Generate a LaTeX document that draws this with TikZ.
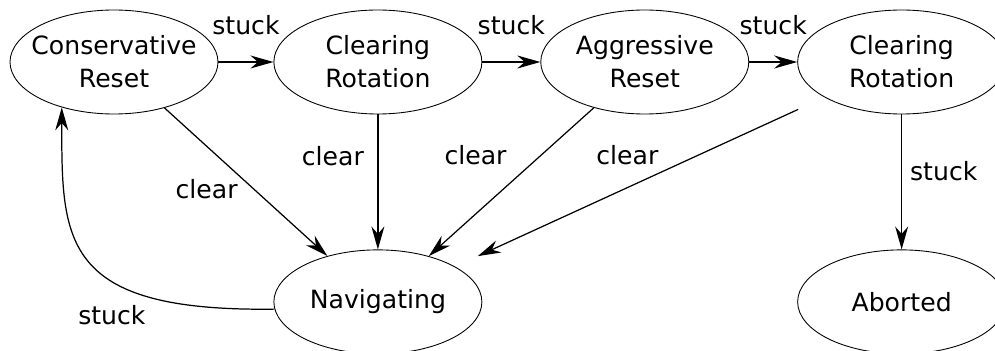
\documentclass[tikz,border=0pt]{standalone}
\usepackage{fontspec}
\setmainfont{DejaVu Sans}
\usetikzlibrary{shapes.geometric,arrows.meta,positioning}

\tikzset{
  state/.style={draw, ellipse, line width=0.5pt, minimum width=4.16cm, minimum height=2.08cm,
    inner xsep=-0.3cm, inner ysep=0pt, align=center, font=\fontsize{14.3}{18.8}\selectfont},
  trans/.style={-{Stealth[length=0.46cm,width=0.26cm,inset=0.15cm]}, line width=0.7pt},
  lbl/.style={font=\fontsize{14.3}{18.8}\selectfont}
}

\begin{document}
\begin{tikzpicture}
    \useasboundingbox (0,0) rectangle (19.9,-7.02);

    \node[state] (cons) at (2.28,-1.24) {Conservative\\Reset};
    \node[state, right=1.1cm of cons] (crot1) {Clearing\\Rotation};
    \node[state, right=1.16cm of crot1] (aggr) {Aggressive\\Reset};
    \node[state, right=0.96cm of aggr] (crot2) {Clearing\\Rotation};

    \node[state, below=2.7cm of crot1] (nav) {Navigating};
    \node[state, below=2.7cm of crot2] (abort) {Aborted};

    \draw[trans] (cons) -- node[lbl, above=0.42cm] {stuck} (crot1);
    \draw[trans] (crot1) -- node[lbl, above=0.42cm] {stuck} (aggr);
    \draw[trans] (aggr) -- node[lbl, above=0.42cm] {stuck} (crot2);

    \draw[trans] (cons) -- node[lbl, pos=0.55, left=0.2cm] {clear} (nav);
    \draw[trans] (crot1) -- node[lbl, pos=0.31, left=0.15cm] {clear} (nav);
    \draw[trans] (aggr) -- node[lbl, pos=0.32, left=0.56cm] {clear} (nav);
    \draw[trans, shorten <=0.58cm, shorten >=0.5cm] (crot2) -- node[lbl, pos=0.34, left=0.68cm] {clear} (nav);

    \draw[trans] (crot2) -- node[lbl, pos=0.42, right=0.04cm] {stuck} (abort);

    \draw[trans] (nav.-176) .. controls +(-4.28,-0.06) and +(0,-2.66) .. node[lbl, pos=0.38, below=0.36cm] {stuck} (cons.-139);
\end{tikzpicture}
\end{document}
